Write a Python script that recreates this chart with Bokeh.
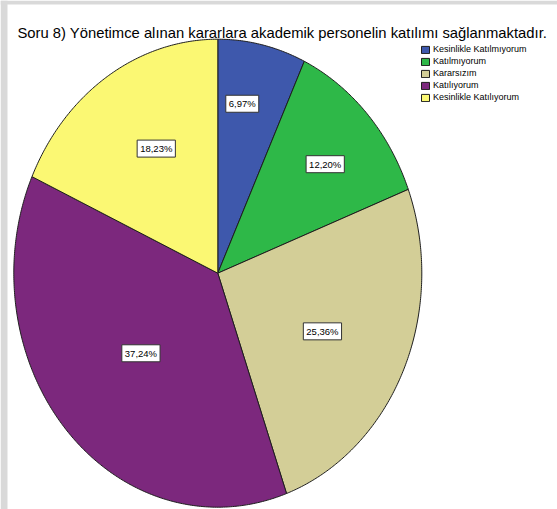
import numpy as np
from bokeh.plotting import figure
from bokeh.models import Range1d, Label, BoxAnnotation
from bokeh.embed import file_html
from bokeh.resources import INLINE

title_text = "Soru 8) Yönetimce alınan kararlara akademik personelin katılımı sağlanmaktadır."
categories = ["Kesinlikle Katılmıyorum", "Katılmıyorum", "Kararsızım", "Katılıyorum", "Kesinlikle Katılıyorum"]
percents = [6.97, 12.20, 25.36, 37.24, 18.23]
pct_labels = ["6,97%", "12,20%", "25,36%", "37,24%", "18,23%"]
colors = ["#3E58AC", "#2EB848", "#D3CE97", "#7C287D", "#FBF873"]

# layout (page pixels)
W, H = 557, 509
BL, BT = 7, 4            # grey window border left / top
CX, CY = 217.3, 272.7    # pie centre
RX, RY = 204, 234        # pie radii (elliptical)
TITLE_X, TITLE_BASE = 17, 32
label_r = [0.734, 0.703, 0.57, 0.509, 0.612]
label_frac = [0.375, 0.533, 0.513, 0.503, 0.55]
FONT = "Liberation Sans"
GREY = "#d9d9d9"


def dx(px):
    return (px - CX) / RX


def dy(py):
    return (CY - py) / RY


p = figure(width=W, height=H, output_backend="svg", toolbar_location=None,
           x_range=Range1d(dx(0), dx(W)), y_range=Range1d(dy(H), dy(0)),
           x_axis_type=None, y_axis_type=None, title=None,
           min_border=0, min_border_left=0, min_border_right=0,
           min_border_top=0, min_border_bottom=0)
p.grid.visible = False
p.outline_line_color = None
p.background_fill_color = "white"
p.border_fill_color = "white"

# grey window frame (left and top)
p.add_layout(BoxAnnotation(right=dx(BL), fill_color=GREY, fill_alpha=1, line_color=None))
p.add_layout(BoxAnnotation(bottom=dy(BT), fill_color=GREY, fill_alpha=1, line_color=None))

total = sum(percents)
start = 0.0
for cat, pct, txt, col, lr, lf in zip(categories, percents, pct_labels, colors, label_r, label_frac):
    a0 = start / total * 2 * np.pi
    a1 = (start + pct) / total * 2 * np.pi
    n = max(3, int(np.degrees(a1 - a0) * 2))
    th = np.linspace(a0, a1, n)
    xs = np.concatenate([[0.0], np.sin(th), [0.0]])
    ys = np.concatenate([[0.0], np.cos(th), [0.0]])
    p.patch(xs, ys, fill_color=col, line_color="#1e1e1e", line_width=1,
            line_join="round", legend_label=cat)
    am = a0 + lf * (a1 - a0)
    p.add_layout(Label(x=lr * np.sin(am), y=lr * np.cos(am), text=txt,
                       text_align="center", text_baseline="middle",
                       text_font=FONT, text_font_size="9.5px", text_color="black",
                       background_fill_color="white", border_line_color="#333333",
                       border_line_width=1, padding=3))
    start += pct

p.add_layout(Label(x=dx(TITLE_X), y=dy(TITLE_BASE), text=title_text,
                   text_font=FONT, text_font_size="14.8px", text_color="black",
                   text_baseline="alphabetic", text_align="left"))

lg = p.legend[0]
lg.location = (420, 407)
lg.padding = 0
lg.margin = 0
lg.spacing = 2
lg.glyph_width = 10
lg.glyph_height = 9
lg.label_height = 10
lg.label_standoff = 3
lg.label_text_font = FONT
lg.label_text_font_size = "9px"
lg.label_text_color = "black"
lg.background_fill_alpha = 0
lg.border_line_color = None
lg.label_text_baseline = "middle"

open("out.html", "w").write(file_html(p, INLINE))
